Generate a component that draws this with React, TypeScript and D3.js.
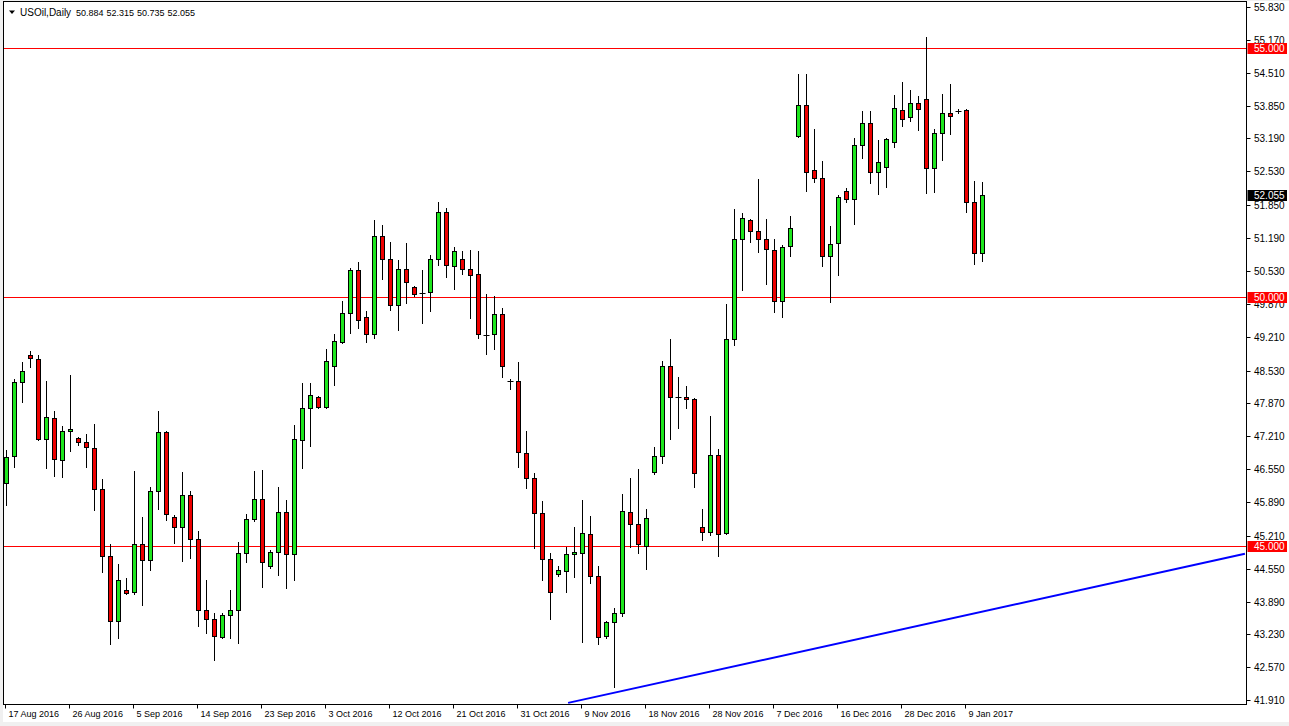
import React from "react";
import * as d3 from "d3";

// daily bars (Sunday bars included), index 0 = 17 Aug 2016
const opens = [
  46.28, 46.82, 48.29, 48.85, 48.77, 47.15, 47.57, 46.73, 47.32, 47.17,
  47.09, 46.97, 46.16, 44.81, 43.5, 44.12, 44.09, 45.04, 44.72, 46.12,
  47.29, 45.58, 45.38, 46.04, 45.14, 43.73, 43.55, 43.17, 43.63, 43.72,
  44.86, 45.54, 45.94, 44.6, 44.88, 45.68, 44.84, 47.13, 47.77, 47.99,
  47.79, 48.63, 49.11, 49.68, 50.54, 49.6, 49.26, 51.24, 50.76, 49.84,
  50.56, 50.2, 50.08, 50.1, 50.76, 51.71, 50.62, 50.76, 50.56, 50.46,
  49.24, 49.26, 49.66, 48.31, 48.32, 46.87, 46.37, 45.66, 44.74, 44.44,
  44.51, 44.84, 44.86, 45.24, 44.4, 43.19, 43.47, 43.67, 45.68, 45.44,
  45.01, 46.49, 46.81, 48.63, 48.0, 48.0, 47.95, 45.39, 45.28, 46.83,
  45.26, 49.16, 51.18, 51.55, 51.34, 51.18, 50.94, 49.93, 51.03, 53.23,
  53.87, 52.55, 52.39, 50.82, 51.1, 52.13, 51.97, 53.05, 53.51, 52.52,
  52.61, 53.11, 53.77, 53.63, 53.91, 53.99, 52.59, 53.29, 53.71, 53.75,
  53.76, 51.91, 50.884,
];
const highs = [
  46.93, 48.35, 48.71, 48.93, 48.84, 48.31, 47.72, 47.42, 48.44, 47.2,
  47.25, 47.46, 46.36, 45.04, 44.64, 44.36, 46.51, 45.58, 46.2, 47.72,
  47.31, 45.63, 46.49, 46.12, 45.31, 44.32, 43.67, 43.67, 44.12, 45.09,
  45.65, 46.52, 46.53, 44.93, 46.2, 45.93, 47.44, 48.27, 48.27, 48.01,
  48.97, 49.26, 49.93, 50.58, 50.7, 49.72, 51.55, 51.45, 51.12, 50.75,
  51.1, 50.23, 50.55, 50.85, 51.92, 51.79, 51.0, 50.93, 50.95, 50.92,
  50.07, 50.03, 49.78, 48.35, 48.71, 47.32, 46.47, 45.9, 44.86, 44.6,
  44.99, 45.38, 45.93, 45.61, 44.6, 43.49, 43.77, 46.06, 46.37, 46.55,
  45.75, 46.99, 48.73, 49.16, 48.39, 48.22, 47.97, 45.74, 47.62, 46.95,
  49.86, 51.77, 51.69, 51.57, 52.38, 51.57, 51.17, 51.06, 51.63, 54.48,
  54.48, 53.37, 52.74, 51.43, 52.05, 52.19, 53.2, 53.74, 53.74, 53.16,
  53.2, 54.06, 54.32, 54.16, 54.04, 55.22, 53.38, 54.08, 54.28, 53.79,
  53.79, 52.33, 52.315,
];
const lows = [
  45.83, 46.6, 47.9, 48.61, 47.13, 46.58, 46.42, 46.4, 46.92, 47.03,
  46.6, 45.73, 44.48, 43.03, 43.15, 44.05, 44.04, 43.82, 44.52, 45.75,
  45.53, 45.06, 44.71, 44.76, 43.4, 43.25, 42.72, 43.15, 43.15, 43.05,
  44.69, 45.5, 44.19, 44.56, 44.42, 44.17, 44.32, 46.57, 47.02, 47.77,
  47.77, 48.24, 49.09, 49.29, 49.38, 49.11, 49.18, 50.36, 49.75, 49.34,
  49.88, 50.03, 49.48, 49.73, 50.65, 50.4, 50.17, 50.47, 49.59, 49.19,
  48.86, 48.97, 48.39, 48.15, 46.6, 46.18, 44.96, 44.32, 43.54, 44.41,
  44.09, 44.39, 43.07, 44.26, 43.03, 43.16, 42.18, 43.61, 44.99, 44.86,
  44.54, 46.45, 46.67, 47.15, 47.38, 47.78, 46.2, 45.13, 45.23, 44.81,
  45.24, 49.04, 50.15, 51.12, 50.9, 50.26, 49.7, 49.6, 50.82, 53.21,
  52.14, 52.32, 50.63, 49.91, 50.45, 51.92, 51.48, 52.8, 52.29, 52.07,
  52.21, 53.01, 53.43, 53.55, 53.36, 52.1, 52.12, 52.76, 53.28, 53.71,
  51.72, 50.67, 50.735,
];
const closes = [
  46.8, 48.29, 48.53, 48.79, 47.15, 47.59, 46.75, 47.32, 47.36, 47.09,
  46.99, 46.16, 44.81, 43.5, 44.32, 44.07, 45.04, 44.72, 46.12, 47.29,
  45.65, 45.38, 46.04, 45.14, 43.73, 43.55, 43.2, 43.63, 43.72, 44.86,
  45.54, 45.94, 44.68, 44.88, 45.68, 44.84, 47.15, 47.77, 48.03, 47.79,
  48.73, 49.12, 49.68, 50.54, 49.54, 49.26, 51.24, 50.76, 49.84, 50.56,
  50.3, 50.06, 50.08, 50.76, 51.71, 50.64, 50.92, 50.56, 50.44, 49.26,
  49.24, 49.66, 48.62, 48.31, 46.89, 46.37, 45.66, 44.74, 44.08, 44.52,
  44.84, 44.88, 45.26, 44.4, 43.17, 43.47, 43.67, 45.71, 45.44, 45.04,
  45.56, 46.81, 48.63, 48.0, 48.0, 47.95, 46.47, 45.28, 46.83, 45.25,
  49.16, 51.18, 51.6, 51.34, 51.18, 50.96, 49.93, 51.02, 51.39, 53.87,
  52.52, 52.39, 50.82, 51.08, 52.01, 51.97, 53.05, 53.51, 52.51, 52.71,
  53.18, 53.81, 53.59, 53.91, 53.79, 52.59, 53.29, 53.71, 53.65, 53.75,
  51.91, 50.88, 52.055,
];

const priceTicks = [
  55.83, 55.17, 54.51, 53.85, 53.19, 52.53, 51.85, 51.19, 50.53, 49.87,
  49.21, 48.53, 47.87, 47.21, 46.55, 45.89, 45.21, 44.55, 43.89, 43.23,
  42.57, 41.91,
];
const dateLabels = [
  "17 Aug 2016", "26 Aug 2016", "5 Sep 2016", "14 Sep 2016", "23 Sep 2016",
  "3 Oct 2016", "12 Oct 2016", "21 Oct 2016", "31 Oct 2016", "9 Nov 2016",
  "18 Nov 2016", "28 Nov 2016", "7 Dec 2016", "16 Dec 2016", "28 Dec 2016",
  "9 Jan 2017",
];
const dateLabelBars = [0, 8, 16, 24, 32, 40, 48, 56, 64, 72, 80, 88, 96, 104, 112, 120];

const levels = [55, 50, 45];
const lastPrice = 52.055;
// trend line anchors (bar index, price)
const trendBars = [70.3, 154.9];
const trendPrices = [41.856, 44.85];
const symbolName = "USOil,Daily";
const headerValues = [50.884, 52.315, 50.735, 52.055];

const W = 1289;
const H = 726;
const frame = { left: 3.5, top: 1.5, right: 1246.5, bottom: 704.5 };
const font = "'Liberation Sans', Arial, sans-serif";
const bull = "#1ee61e";
const bear = "#ee0000";

export default function App() {
  const x = d3.scaleLinear().domain([0, 122]).range([5.7, 981.7]);
  const y = d3.scaleLinear().domain([45, 55]).range([546.3, 48.3]);

  const bars = opens.map((o, i) => ({
    o,
    h: highs[i],
    l: lows[i],
    c: closes[i],
    i,
  }));

  const trendLine = d3
    .line<number>()
    .x((b) => x(b))
    .y((_, k) => y(trendPrices[k]));

  return (
    <svg
      width={W}
      height={H}
      style={{ position: "fixed", left: 0, top: 0, display: "block" }}
    >
      <defs>
        <clipPath id="plotClip">
          <rect
            x={frame.left + 0.5}
            y={frame.top + 0.5}
            width={frame.right - frame.left - 1}
            height={frame.bottom - frame.top - 1}
          />
        </clipPath>
      </defs>
      <rect width={W} height={H} fill="#f0f0f0" />
      <rect x={3} y={1} width={W - 3} height={721} fill="#ffffff" />

      {/* header */}
      <path d="M9,10.5 L15,10.5 L12,14 Z" fill="#000" />
      <text x={20} y={15.5} fontFamily={font} fontSize={10} fill="#000">
        {symbolName}
      </text>
      {headerValues.map((v, k) => (
        <text
          key={k}
          x={76 + k * 30.5}
          y={15.5}
          fontFamily={font}
          fontSize={9}
          fill="#000"
        >
          {v.toFixed(3)}
        </text>
      ))}

      <g clipPath="url(#plotClip)">
        {/* price levels */}
        {levels.map((lv) => (
          <line
            key={lv}
            x1={frame.left}
            x2={frame.right}
            y1={Math.round(y(lv)) + 0.5}
            y2={Math.round(y(lv)) + 0.5}
            stroke="#ff0000"
            strokeWidth={1}
          />
        ))}

        {/* candles */}
        {bars.map((b) => {
          const cx = Math.round(x(b.i)) + 0.5;
          const top = Math.round(y(Math.max(b.o, b.c)));
          const bot = Math.round(y(Math.min(b.o, b.c)));
          const doji = Math.abs(b.o - b.c) < 0.015;
          return (
            <g key={b.i}>
              <line
                x1={cx}
                x2={cx}
                y1={Math.round(y(b.h))}
                y2={Math.round(y(b.l)) + 1}
                stroke="#000"
                strokeWidth={1}
              />
              {doji ? (
                <line
                  x1={cx - 3}
                  x2={cx + 3}
                  y1={top + 0.5}
                  y2={top + 0.5}
                  stroke="#000"
                  strokeWidth={1}
                />
              ) : (
                <rect
                  x={cx - 2}
                  y={top + 0.5}
                  width={4}
                  height={Math.max(bot - top, 1)}
                  fill={b.c >= b.o ? bull : bear}
                  stroke="#000"
                  strokeWidth={1}
                />
              )}
            </g>
          );
        })}

        {/* trend line */}
        <path
          d={trendLine(trendBars) || ""}
          fill="none"
          stroke="#0000ff"
          strokeWidth={2}
        />
      </g>

      {/* frame */}
      <rect
        x={frame.left}
        y={frame.top}
        width={frame.right - frame.left}
        height={frame.bottom - frame.top}
        fill="none"
        stroke="#000"
        strokeWidth={1}
      />

      {/* right price axis */}
      {priceTicks.map((t) => {
        const ty = Math.round(y(t)) + 0.5;
        return (
          <g key={t}>
            <line
              x1={frame.right}
              x2={frame.right + 4}
              y1={ty}
              y2={ty}
              stroke="#000"
            />
            <text
              x={1254}
              y={ty}
              dy="0.35em"
              fontFamily={font}
              fontSize={10}
              fill="#000"
            >
              {t.toFixed(3)}
            </text>
          </g>
        );
      })}

      {/* level / last price markers */}
      {levels.map((lv) => (
        <g key={"m" + lv}>
          <rect
            x={frame.right + 1}
            y={Math.round(y(lv)) - 5}
            width={W - frame.right - 3}
            height={11}
            fill="#ff0000"
          />
          <text
            x={1254}
            y={Math.round(y(lv)) + 0.5}
            dy="0.35em"
            fontFamily={font}
            fontSize={10}
            fill="#ffffff"
          >
            {lv.toFixed(3)}
          </text>
        </g>
      ))}
      <rect
        x={frame.right + 1}
        y={Math.round(y(lastPrice)) - 5}
        width={W - frame.right - 3}
        height={11}
        fill="#000000"
      />
      <text
        x={1254}
        y={Math.round(y(lastPrice)) + 0.5}
        dy="0.35em"
        fontFamily={font}
        fontSize={10}
        fill="#ffffff"
      >
        {lastPrice.toFixed(3)}
      </text>

      {/* bottom date axis */}
      {dateLabels.map((lab, k) => {
        const tx = Math.round(x(dateLabelBars[k])) - 0.5;
        return (
          <g key={lab}>
            <line
              x1={tx}
              x2={tx}
              y1={frame.bottom}
              y2={frame.bottom + 4}
              stroke="#000"
            />
            <text
              x={tx + 3}
              y={717}
              fontFamily={font}
              fontSize={9}
              fill="#000"
            >
              {lab}
            </text>
          </g>
        );
      })}
    </svg>
  );
}
